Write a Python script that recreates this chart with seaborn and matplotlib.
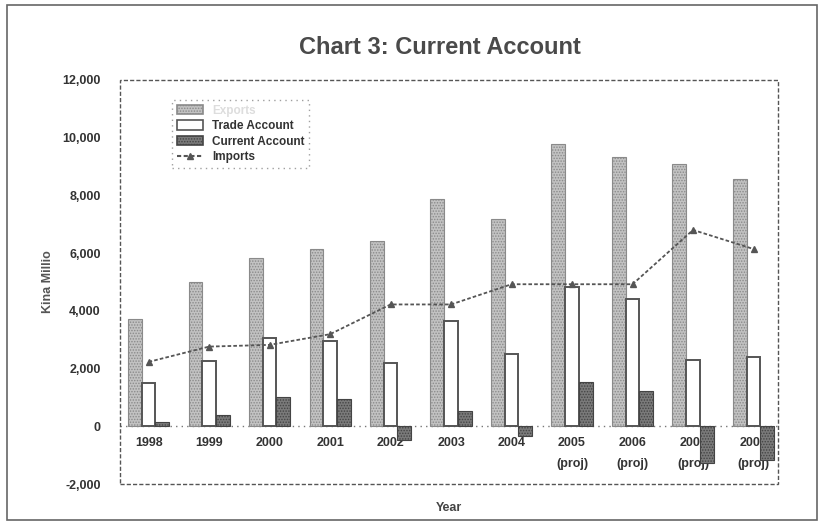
import matplotlib
matplotlib.use("Agg")
import matplotlib.pyplot as plt
from matplotlib.patches import Rectangle
from matplotlib.ticker import FuncFormatter
import seaborn as sns
import pandas as pd

years = ["1998", "1999", "2000", "2001", "2002", "2003", "2004",
         "2005\n(proj)", "2006\n(proj)", "2007\n(proj)", "2008\n(proj)"]
exports = [3710, 4990, 5830, 6140, 6420, 7870, 7180, 9770, 9320, 9100, 8580]
trade_account = [1500, 2270, 3050, 2960, 2200, 3630, 2520, 4830, 4400, 2310, 2400]
current_account = [140, 400, 1010, 950, -490, 520, -350, 1530, 1220, -1260, -1180]
imports = [2230, 2760, 2820, 3190, 4220, 4220, 4920, 4920, 4920, 6800, 6140]

series = ["Exports", "Trade Account", "Current Account"]
df = pd.DataFrame({
    "Year": years * 3,
    "Value": exports + trade_account + current_account,
    "Series": [s for s in series for _ in years],
})
imp = pd.DataFrame({"Year": years, "Imports": imports})

sns.set_style("white")
plt.rcParams["font.family"] = ["Liberation Sans", "DejaVu Sans"]
plt.rcParams["hatch.linewidth"] = 0.7

fig = plt.figure(figsize=(8.23, 5.25), dpi=100)
ax = fig.add_axes([0.146, 0.078, 0.799, 0.770])

fills = ["#c2c2c2", "white", "#7a7a7a"]
edges = ["#8a8a8a", "#555555", "#444444"]
hatches = ["......", None, "......"]
sns.barplot(data=df, x="Year", y="Value", hue="Series", order=years,
            hue_order=series, palette=fills, width=0.68, gap=0,
            saturation=1, ax=ax, legend=False)
for cont, fc, ec, h in zip(ax.containers, fills, edges, hatches):
    for bar in cont:
        bar.set_facecolor(fc)
        bar.set_edgecolor(ec)
        bar.set_linewidth(0.8 if h else 1.4)
        if h:
            bar.set_hatch(h)

sns.pointplot(data=imp, x="Year", y="Imports", order=years, color="#555555",
              markers="^", linestyles=(0, (2, 1.2)), markersize=5,
              linewidth=1.3, ax=ax)

ax.set_ylim(-2000, 12000)
ax.set_xlim(-0.47, 10.4)
ax.set_yticks(range(-2000, 12001, 2000))
ax.yaxis.set_major_formatter(FuncFormatter(lambda v, p: f"{int(v):,}"))
ax.axhline(0, color="#777777", lw=1, ls=(0, (1, 3)), zorder=0.5)

for s in ax.spines.values():
    s.set_visible(False)
ax.spines["bottom"].set_position(("data", 0))
ax.add_patch(Rectangle((0, 0), 1, 1, transform=ax.transAxes, fill=False,
                       ec="#555555", lw=1, ls=(0, (3, 1.5)), clip_on=False))

ax.tick_params(axis="x", length=0, pad=8, labelsize=9, colors="#333333")
ax.tick_params(axis="y", length=0, pad=14, labelsize=9, colors="#333333")
for lab in ax.get_xticklabels() + ax.get_yticklabels():
    lab.set_fontweight("bold")
    lab.set_linespacing(1.9)

ax.set_xlabel("Year", fontsize=9, fontweight="bold", color="#444444",
              labelpad=0)
ax.xaxis.set_label_coords(0.5, -0.045)
ax.set_ylabel("Kina Millio", fontsize=9, fontweight="bold", color="#555555")
ax.yaxis.set_label_coords(-0.1, 0.5)

fig.suptitle("Chart 3: Current Account", fontsize=17, fontweight="bold",
             color="#4a4a4a", x=0.535, y=0.932)

handles = [Rectangle((0, 0), 1, 1, fc=fills[i], ec=edges[i], hatch=hatches[i],
                     lw=1.2) for i in range(3)]
handles.append(plt.Line2D([], [], color="#555555", ls=(0, (2, 1.2)),
                          marker="^", markersize=5))
leg = ax.legend(handles, series + ["Imports"], loc="upper left",
                bbox_to_anchor=(0.07, 0.965), frameon=True, fontsize=8.5,
                handlelength=2.2, handleheight=0.8, labelspacing=0.3,
                fancybox=False, borderpad=0.4)
leg.get_frame().set_edgecolor("#888888")
leg.get_frame().set_linestyle((0, (1, 3)))
for t, c in zip(leg.get_texts(), ["#dddddd", "#333333", "#333333", "#333333"]):
    t.set_color(c)
    t.set_fontweight("bold")

fig.add_artist(Rectangle((0.008, 0.01), 0.985, 0.98, transform=fig.transFigure,
                         fill=False, ec="#666666", lw=1.2))

fig.savefig("out.png", dpi=100)
